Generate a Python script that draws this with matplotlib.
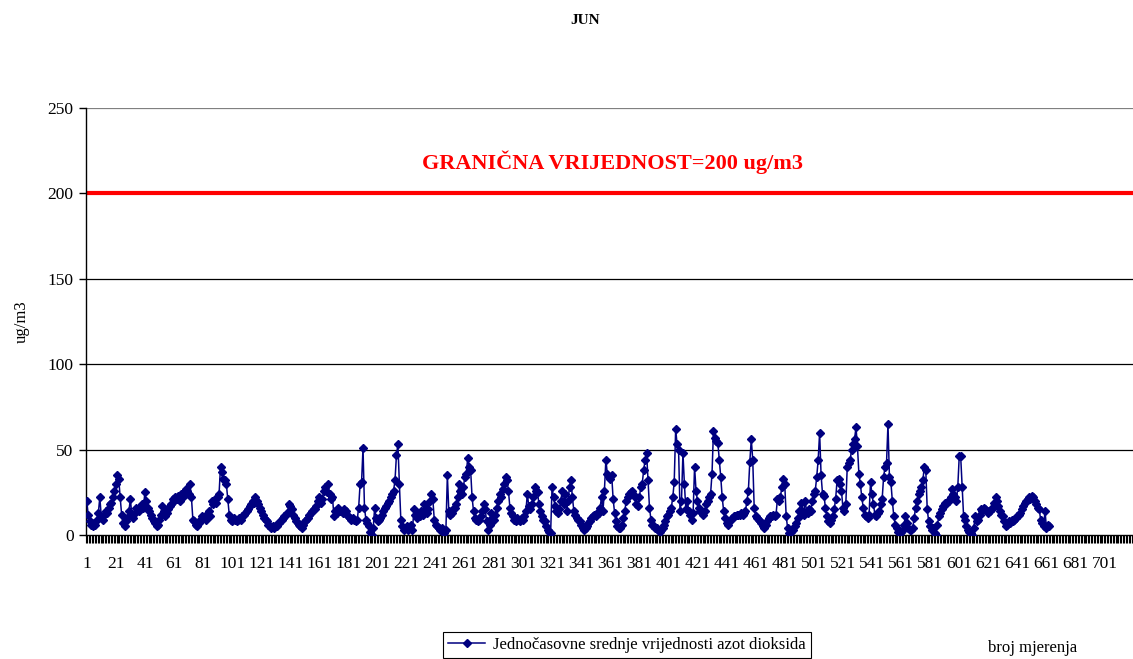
import matplotlib
matplotlib.use("Agg")
import matplotlib.pyplot as plt
from matplotlib.ticker import FixedLocator, NullFormatter

# ---------------- data ----------------
no2_values = [
    20, 12, 8, 6, 5, 7, 6, 9, 13, 22, 11, 9, 12, 14, 13, 16, 18, 19, 22, 26,
    30, 35, 33, 22, 12, 7, 5, 8, 10, 14, 21, 12, 10, 13, 16, 15, 14, 17, 18, 16,
    25, 20, 16, 14, 12, 10, 8, 7, 5, 6, 9, 12, 17, 14, 11, 13, 15, 17, 18, 21,
    20, 22, 21, 23, 20, 24, 22, 25, 27, 26, 24, 30, 22, 9, 8, 6, 5, 7, 9, 11,
    10, 11, 9, 12, 14, 11, 20, 18, 21, 19, 22, 24, 40, 37, 33, 32, 30, 21, 12, 9,
    8, 10, 9, 8, 9, 10, 9, 11, 12, 13, 14, 15, 17, 18, 20, 19, 22, 20, 18, 16,
    14, 12, 10, 9, 8, 6, 5, 4, 5, 4, 6, 5, 7, 8, 9, 10, 11, 12, 13, 18,
    17, 15, 12, 10, 8, 7, 6, 5, 4, 6, 8, 9, 10, 12, 13, 14, 15, 15, 17, 20,
    22, 19, 21, 26, 28, 25, 30, 24, 21, 22, 11, 14, 13, 16, 14, 14, 13, 15, 14, 12,
    11, 10, 9, 10, 9, 8, 9, 16, 30, 31, 51, 16, 9, 7, 5, 2, 0, 4, 16, 10,
    8, 9, 10, 12, 14, 16, 17, 19, 20, 22, 24, 26, 32, 47, 53, 30, 9, 5, 3, 4,
    5, 3, 4, 6, 3, 15, 12, 10, 13, 11, 14, 12, 18, 16, 13, 15, 20, 24, 21, 9,
    6, 5, 4, 3, 4, 2, 1, 3, 35, 14, 12, 13, 15, 16, 18, 22, 30, 26, 24, 28,
    34, 36, 45, 40, 38, 22, 14, 10, 9, 8, 9, 11, 14, 18, 15, 8, 3, 6, 13, 10,
    9, 12, 16, 20, 24, 22, 27, 30, 34, 32, 26, 16, 13, 11, 9, 8, 10, 9, 8, 10,
    9, 11, 14, 24, 17, 15, 18, 22, 28, 26, 25, 18, 14, 11, 9, 8, 5, 3, 2, 1,
    28, 22, 17, 14, 13, 15, 20, 26, 18, 24, 14, 20, 28, 32, 22, 14, 12, 10, 9, 8,
    6, 4, 3, 4, 5, 7, 8, 10, 11, 12, 11, 13, 13, 16, 22, 14, 26, 44, 36, 34,
    33, 35, 21, 13, 8, 5, 4, 4, 6, 10, 14, 20, 22, 24, 25, 26, 24, 22, 18, 17,
    22, 28, 30, 38, 44, 48, 32, 16, 9, 6, 5, 4, 4, 3, 2, 3, 4, 6, 8, 11,
    12, 14, 16, 22, 31, 62, 53, 50, 14, 20, 48, 30, 15, 20, 14, 12, 9, 13, 40, 26,
    20, 16, 14, 13, 12, 14, 18, 20, 22, 24, 36, 61, 57, 55, 54, 44, 34, 22, 14, 10,
    7, 6, 8, 9, 10, 11, 11, 12, 12, 12, 13, 12, 13, 14, 20, 26, 43, 56, 44, 16,
    11, 10, 9, 8, 7, 5, 4, 6, 8, 10, 11, 11, 12, 11, 12, 21, 20, 22, 28, 33,
    30, 11, 4, 1, 2, 3, 3, 5, 7, 10, 14, 19, 14, 12, 20, 14, 13, 15, 14, 20,
    24, 26, 34, 44, 60, 35, 24, 23, 16, 11, 8, 7, 9, 11, 15, 21, 32, 33, 30, 26,
    16, 14, 18, 40, 42, 44, 50, 53, 56, 63, 52, 36, 30, 22, 16, 12, 11, 10, 12, 31,
    24, 18, 12, 11, 13, 14, 18, 21, 34, 40, 42, 65, 34, 31, 20, 11, 6, 4, 2, 1,
    2, 3, 6, 11, 7, 4, 3, 3, 4, 10, 16, 20, 24, 26, 28, 32, 40, 38, 15, 8,
    5, 3, 4, 1, 0, 6, 11, 13, 15, 17, 19, 18, 20, 20, 22, 27, 24, 22, 20, 28,
    46, 46, 28, 11, 9, 5, 3, 2, 1, 0, 4, 11, 8, 9, 12, 15, 14, 16, 15, 14,
    13, 14, 15, 16, 19, 22, 20, 17, 14, 12, 11, 8, 5, 6, 8, 7, 9, 8, 9, 10,
    11, 12, 13, 15, 17, 19, 20, 21, 22, 21, 23, 22, 20, 18, 16, 15, 9, 7, 5, 14,
    4, 6, 5,
]
n_categories = 720
limit_value = 200
y_ticks = [0, 50, 100, 150, 200, 250]
x_label_every = 20

title_text = "JUN"
limit_text = "GRANIČNA VRIJEDNOST=200 ug/m3"
y_label = "ug/m3"
x_label = "broj mjerenja"
legend_label = "Jednočasovne srednje vrijednosti azot dioksida"

# ---------------- figure ----------------
W, H = 1133, 659
fig = plt.figure(figsize=(W / 100, H / 100), dpi=100)
serif = ["Liberation Serif", "DejaVu Serif"]
plt.rcParams["font.family"] = serif

left, right, top, bottom = 86, 1133, 108, 535
ax = fig.add_axes([left / W, 1 - bottom / H, (right - left) / W, (bottom - top) / H])

xs = list(range(1, len(no2_values) + 1))
line, = ax.plot(xs, no2_values, color="#000080", linewidth=1.1, marker="D",
                markersize=4.3, markerfacecolor="#000080", markeredgecolor="#000080",
                zorder=3)

ax.axhline(limit_value, color="#ff0000", linewidth=3.0, zorder=2)

ax.set_xlim(0.5, n_categories + 0.5)
ax.set_ylim(0, 250)

# gridlines
for v in y_ticks[1:]:
    ax.axhline(v, color="black" if v != 250 else "#808080", linewidth=0.9, zorder=1)

ax.set_yticks(y_ticks)
ax.set_yticklabels([str(v) for v in y_ticks], fontsize=12.5)
ax.tick_params(axis="y", direction="out", length=5, width=1, pad=4)

major = list(range(1, n_categories + 1, x_label_every))
ax.set_xticks(major)
ax.set_xticklabels([str(v) for v in major], fontsize=12.5)
ax.tick_params(axis="x", which="major", length=0, pad=15)
ax.xaxis.set_minor_locator(FixedLocator([i + 0.5 for i in range(0, n_categories + 1)]))
ax.xaxis.set_minor_formatter(NullFormatter())
ax.tick_params(axis="x", which="minor", direction="out", length=6, width=0.8)

for s in ["top", "right"]:
    ax.spines[s].set_visible(False)
for s in ["left", "bottom"]:
    ax.spines[s].set_color("black")
    ax.spines[s].set_linewidth(1.0)

ax.text((612 - left) / (right - left), 218, limit_text,
        transform=ax.get_yaxis_transform(), ha="center",
        va="center", color="#ff0000", fontsize=16, fontweight="bold")

fig.text(585 / W, 1 - 20 / H, title_text, ha="center", va="center",
         fontsize=11, fontweight="bold")
fig.text(22 / W, 1 - 322 / H, y_label, rotation=90, ha="center", va="center",
         fontsize=12)
fig.text(1033 / W, 1 - 648 / H, x_label, ha="center", va="center", fontsize=12)

leg = fig.legend([line], [legend_label], loc="center",
                 bbox_to_anchor=(627 / W, 1 - 645 / H), fontsize=12,
                 frameon=True, fancybox=False, edgecolor="black", framealpha=1,
                 handlelength=2.2, borderpad=0.3, handletextpad=0.5)
leg.get_frame().set_linewidth(0.8)

fig.savefig("out.png", dpi=100)
